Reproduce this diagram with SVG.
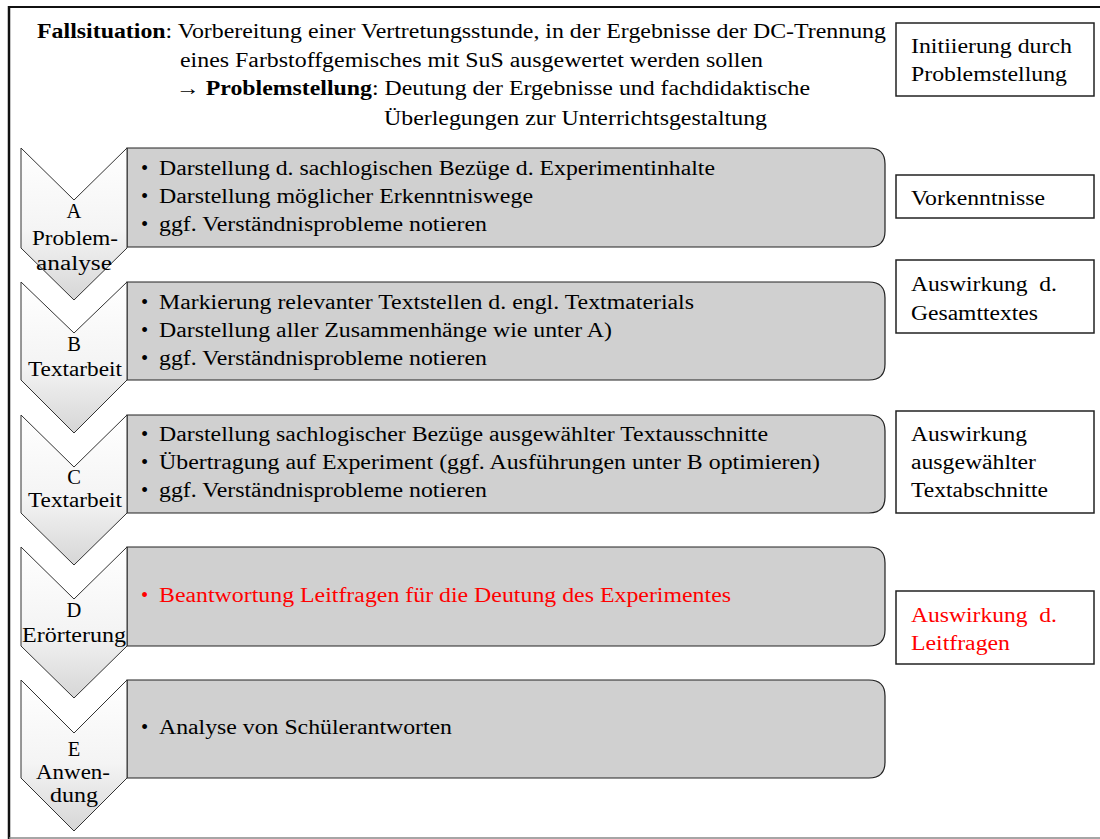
<svg xmlns="http://www.w3.org/2000/svg" width="1100" height="839" viewBox="0 0 1100 839">
<defs>
<linearGradient id="chev" x1="0" y1="0" x2="0" y2="1">
<stop offset="0" stop-color="#ffffff"/>
<stop offset="0.55" stop-color="#f4f4f4"/>
<stop offset="1" stop-color="#d6d6d6"/>
</linearGradient>
<style>
text{font-family:"Liberation Serif","Times New Roman","DejaVu Serif",serif;font-size:20.5px;fill:#000}
.b{font-weight:bold}
.red{fill:#ff0000}
.lbl{text-anchor:middle}
.chev{fill:url(#chev);stroke:#333;stroke-width:1}
.card{fill:#d0d0d0;stroke:#222;stroke-width:1.2}
.box{fill:#fff;stroke:#222;stroke-width:1.5}
</style>
</defs>
<rect x="0" y="0" width="1100" height="839" fill="#fff"/>
<g id="frame">
<line x1="9" y1="7" x2="1102" y2="7" stroke="#111" stroke-width="2"/>
<line x1="9" y1="6" x2="9" y2="839" stroke="#111" stroke-width="2.5"/>
<line x1="9" y1="838" x2="1102" y2="838" stroke="#888" stroke-width="1.5"/>
</g>
<g id="header">
<text x="37" y="38" textLength="849" lengthAdjust="spacingAndGlyphs"><tspan class="b">Fallsituation</tspan>: Vorbereitung einer Vertretungsstunde, in der Ergebnisse der DC-Trennung</text>
<text x="180" y="67" textLength="583" lengthAdjust="spacingAndGlyphs">eines Farbstoffgemisches mit SuS ausgewertet werden sollen</text>
<text x="176" y="95" textLength="634" lengthAdjust="spacingAndGlyphs">→ <tspan class="b">Problemstellung</tspan>: Deutung der Ergebnisse und fachdidaktische</text>
<text x="384" y="125" textLength="383" lengthAdjust="spacingAndGlyphs">Überlegungen zur Unterrichtsgestaltung</text>
</g>
<g id="connectors"></g>
<g id="stepA">
<path class="card" d="M127,148 H869 Q885,148 885,164 V231 Q885,247 869,247 H127 Z"/>
<path class="chev" d="M21,148 L74,200 L127,148 L127,248 L74,300 L21,248 Z"/>
<text class="lbl" x="74" y="218">A</text>
<text class="lbl" x="75" y="245" textLength="86" lengthAdjust="spacingAndGlyphs">Problem-</text>
<text class="lbl" x="74" y="270" textLength="76" lengthAdjust="spacingAndGlyphs">analyse</text>
<text x="141" y="175">•</text><text x="159" y="175" textLength="556" lengthAdjust="spacingAndGlyphs">Darstellung d. sachlogischen Bezüge d. Experimentinhalte</text>
<text x="141" y="203">•</text><text x="159" y="203" textLength="374" lengthAdjust="spacingAndGlyphs">Darstellung möglicher Erkenntniswege</text>
<text x="141" y="231">•</text><text x="159" y="231" textLength="328" lengthAdjust="spacingAndGlyphs">ggf. Verständnisprobleme notieren</text>
</g>
<g id="stepB">
<path class="card" d="M127,282 H869 Q885,282 885,298 V364 Q885,380 869,380 H127 Z"/>
<path class="chev" d="M21,282 L74,333 L127,282 L127,380 L74,433 L21,380 Z"/>
<text class="lbl" x="74" y="351">B</text>
<text class="lbl" x="75" y="376" textLength="94" lengthAdjust="spacingAndGlyphs">Textarbeit</text>
<text x="141" y="309">•</text><text x="159" y="309" textLength="535" lengthAdjust="spacingAndGlyphs">Markierung relevanter Textstellen d. engl. Textmaterials</text>
<text x="141" y="337">•</text><text x="159" y="337" textLength="453" lengthAdjust="spacingAndGlyphs">Darstellung aller Zusammenhänge wie unter A)</text>
<text x="141" y="365">•</text><text x="159" y="365" textLength="328" lengthAdjust="spacingAndGlyphs">ggf. Verständnisprobleme notieren</text>
</g>
<g id="stepC">
<path class="card" d="M127,415 H869 Q885,415 885,431 V497 Q885,513 869,513 H127 Z"/>
<path class="chev" d="M21,415 L74,467 L127,415 L127,513 L74,565 L21,513 Z"/>
<text class="lbl" x="74" y="484">C</text>
<text class="lbl" x="75" y="507" textLength="94" lengthAdjust="spacingAndGlyphs">Textarbeit</text>
<text x="141" y="441">•</text><text x="159" y="441" textLength="609" lengthAdjust="spacingAndGlyphs">Darstellung sachlogischer Bezüge ausgewählter Textausschnitte</text>
<text x="141" y="469">•</text><text x="159" y="469" textLength="661" lengthAdjust="spacingAndGlyphs">Übertragung auf Experiment (ggf. Ausführungen unter B optimieren)</text>
<text x="141" y="497">•</text><text x="159" y="497" textLength="328" lengthAdjust="spacingAndGlyphs">ggf. Verständnisprobleme notieren</text>
</g>
<g id="stepD">
<path class="card" d="M127,547 H869 Q885,547 885,563 V630 Q885,646 869,646 H127 Z"/>
<path class="chev" d="M21,547 L74,599 L127,547 L127,646 L74,698 L21,646 Z"/>
<text class="lbl" x="74" y="617">D</text>
<text class="lbl" x="74" y="642" textLength="104" lengthAdjust="spacingAndGlyphs">Erörterung</text>
<text class="red" x="141" y="602">•</text><text class="red" x="159" y="602" textLength="572" lengthAdjust="spacingAndGlyphs">Beantwortung Leitfragen für die Deutung des Experimentes</text>
</g>
<g id="stepE">
<path class="card" d="M127,680 H869 Q885,680 885,696 V762 Q885,778 869,778 H127 Z"/>
<path class="chev" d="M21,680 L74,733 L127,680 L127,778 L74,831 L21,778 Z"/>
<text class="lbl" x="74" y="756">E</text>
<text class="lbl" x="73" y="779" textLength="74" lengthAdjust="spacingAndGlyphs">Anwen-</text>
<text class="lbl" x="74" y="802" textLength="48" lengthAdjust="spacingAndGlyphs">dung</text>
<text x="141" y="734">•</text><text x="159" y="734" textLength="293" lengthAdjust="spacingAndGlyphs">Analyse von Schülerantworten</text>
</g>
<g id="box1">
<rect class="box" x="896" y="23" width="198" height="73"/>
<text x="911" y="53" textLength="161" lengthAdjust="spacingAndGlyphs">Initiierung durch</text>
<text x="911" y="81" textLength="156" lengthAdjust="spacingAndGlyphs">Problemstellung</text>
</g>
<g id="box2">
<rect class="box" x="896" y="175" width="198" height="43"/>
<text x="911" y="205" textLength="134" lengthAdjust="spacingAndGlyphs">Vorkenntnisse</text>
</g>
<g id="box3">
<rect class="box" x="896" y="260" width="198" height="73"/>
<text x="911" y="291" xml:space="preserve" textLength="146" lengthAdjust="spacingAndGlyphs">Auswirkung  d.</text>
<text x="911" y="320" textLength="127" lengthAdjust="spacingAndGlyphs">Gesamttextes</text>
</g>
<g id="box4">
<rect class="box" x="896" y="411" width="198" height="102"/>
<text x="911" y="441" textLength="116" lengthAdjust="spacingAndGlyphs">Auswirkung</text>
<text x="911" y="469" textLength="125" lengthAdjust="spacingAndGlyphs">ausgewählter</text>
<text x="911" y="497" textLength="137" lengthAdjust="spacingAndGlyphs">Textabschnitte</text>
</g>
<g id="box5">
<rect class="box" x="896" y="591" width="198" height="73"/>
<text class="red" x="911" y="622" xml:space="preserve" textLength="146" lengthAdjust="spacingAndGlyphs">Auswirkung  d.</text>
<text class="red" x="911" y="650" textLength="99" lengthAdjust="spacingAndGlyphs">Leitfragen</text>
</g>
</svg>
